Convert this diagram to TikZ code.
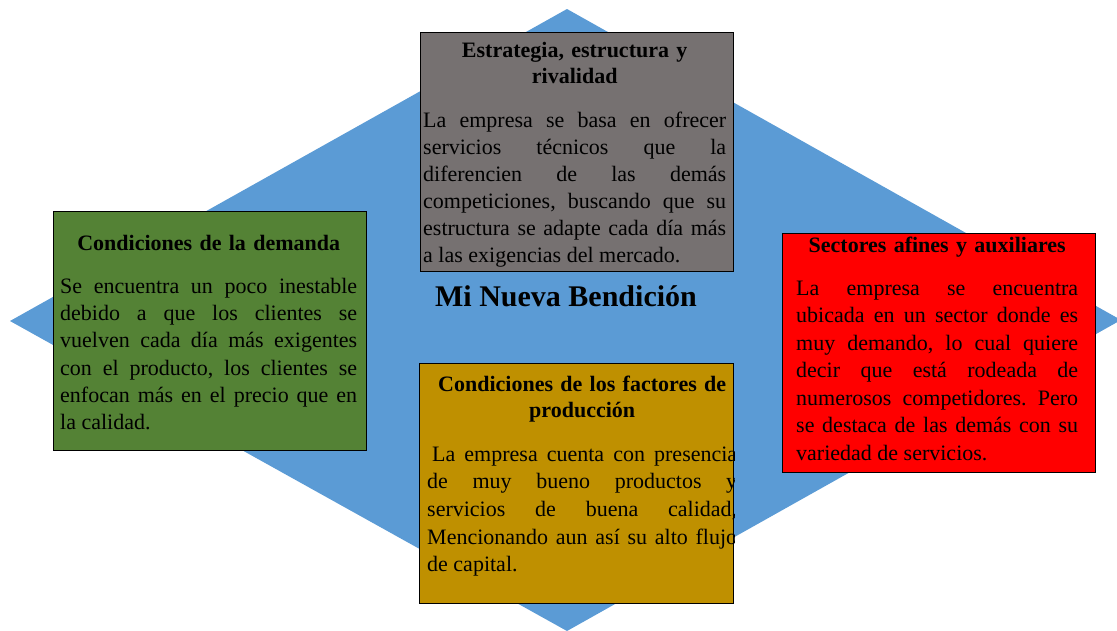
\documentclass[tikz,border=0pt]{standalone}
\usepackage{fontspec}
\setmainfont{Liberation Serif}
\frenchspacing
\definecolor{diam}{HTML}{5B9BD5}
\definecolor{boxgray}{HTML}{767171}
\definecolor{boxgreen}{HTML}{548235}
\definecolor{boxred}{HTML}{FF0000}
\definecolor{boxgold}{HTML}{BF9000}
\begin{document}
\begin{tikzpicture}[x=1pt,y=-1pt,
  panel/.style={draw=black, line width=1.2pt, minimum width=313pt, minimum height=239pt, anchor=north west, inner sep=0pt},
  ttl/.style={inner sep=0pt, anchor=north west, align=center, font=\fontsize{22}{26}\selectfont\bfseries},
  bodytxt/.style={inner sep=0pt, anchor=north west, align=justify, font=\fontsize{22}{#1}\selectfont\frenchspacing},
  bodytxt/.default=27.5
]
\useasboundingbox (0,0) rectangle (1117,630);
\clip (0,0) rectangle (1117,630);
% diamond
\fill[diam] (567,9) -- (1121,320) -- (567,631) -- (10,321) -- cycle;

% top box
\node[panel, fill=boxgray] (topbox) at (420,32) {};
\node[ttl, text width=303pt] (toptitle) at (423,38.8) {\strut Estrategia, estructura y\\ rivalidad};
\node[bodytxt=27, text width=303pt] (topbody) at (423,108.1) {\strut La empresa se basa en ofrecer\linebreak servicios técnicos que la\linebreak diferencien de las demás\linebreak competiciones, buscando que su\linebreak estructura se adapte cada día más\linebreak a las exigencias del mercado.};

% left box
\node[panel, fill=boxgreen] (leftbox) at (53,211) {};
\node[ttl, text width=297pt] (lefttitle) at (60,231.8) {\strut Condiciones de la demanda};
\node[bodytxt=27.3, text width=297pt] (leftbody) at (60,273.9) {\strut Se encuentra un poco inestable\linebreak debido a que los clientes se\linebreak vuelven cada día más exigentes\linebreak con el producto, los clientes se\linebreak enfocan más en el precio que en\linebreak la calidad.};

% right box
\node[panel, fill=boxred] (rightbox) at (782,233) {};
\node[ttl, text width=282pt] (righttitle) at (796,233.8) {\strut Sectores afines y auxiliares};
\node[bodytxt=27.5, text width=282pt] (rightbody) at (796,275.75) {\strut La empresa se encuentra\linebreak ubicada en un sector donde es\linebreak muy demando, lo cual quiere\linebreak decir que está rodeada de\linebreak numerosos competidores. Pero\linebreak se destaca de las demás con su\linebreak variedad de servicios.};

% bottom box
\node[panel, fill=boxgold, minimum width=314pt, minimum height=240pt] (botbox) at (419,363) {};
\node[ttl, text width=310pt] (bottitle) at (427,372.8) {\strut Condiciones de los factores de\\ producción};
\begin{scope}
\clip (botbox.south west) rectangle (botbox.north east);
\node[bodytxt=27.7, text width=310pt] (botbody) at (427,441.6) {\strut\hspace*{5pt}La empresa cuenta con presencia\linebreak de muy bueno productos y\linebreak servicios de buena calidad,\linebreak Mencionando aun así su alto flujo\linebreak de capital.};
\end{scope}

% centre title
\node[inner sep=0pt, anchor=base, font=\fontsize{30}{36}\selectfont\bfseries] (maintitle) at (566,306) {Mi Nueva Bendición};
\end{tikzpicture}
\end{document}
